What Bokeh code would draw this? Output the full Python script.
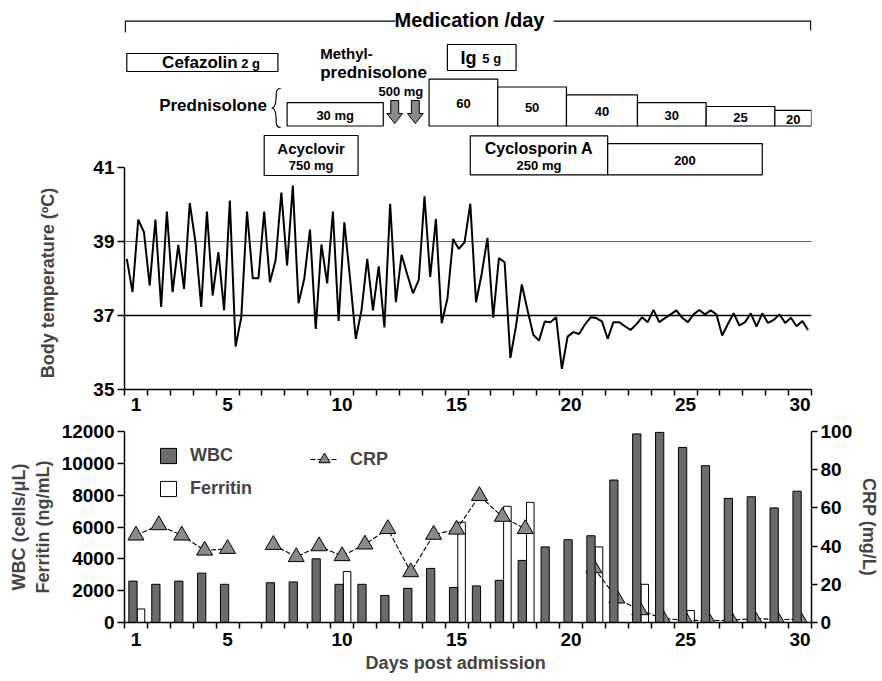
import numpy as np
from bokeh.plotting import figure
from bokeh.models import (Range1d, LinearAxis, FixedTicker, Span, Label, Legend,
                          LegendItem, ColumnDataSource)
from bokeh.transform import dodge
from bokeh.layouts import column
from bokeh.embed import file_html
from bokeh.resources import INLINE
from bokeh.core.properties import value

# ---------------- data ----------------
# body temperature, one reading every 6 h
temp_c = [38.53, 37.63, 39.59, 39.25, 37.81, 39.59, 37.23, 39.81, 37.63, 38.91,
          37.72, 40.04, 38.98, 37.23, 39.81, 37.54, 38.71, 37.14, 40.11, 36.16,
          36.95, 39.81, 38.01, 38.01, 39.81, 37.90, 38.50, 40.32, 38.35, 40.51,
          37.33, 37.99, 39.32, 36.64, 38.92, 37.87, 39.81, 36.85, 39.52, 38.00,
          36.37, 37.14, 38.53, 37.14, 38.33, 36.68, 40.02, 37.36, 38.64, 38.10,
          37.60, 37.96, 40.22, 38.04, 39.61, 36.79, 37.45, 39.07, 38.80, 38.98,
          40.02, 37.36, 38.13, 39.10, 36.94, 38.55, 38.44, 35.85, 36.73, 37.84,
          37.14, 36.48, 36.32, 36.84, 36.82, 36.95, 35.56, 36.43, 36.55, 36.50,
          36.75, 36.95, 36.93, 36.84, 36.37, 36.82, 36.82, 36.71, 36.61, 36.76,
          36.95, 36.82, 37.15, 36.82, 36.93, 37.03, 37.14, 36.94, 36.82, 37.03,
          37.15, 37.03, 37.14, 37.03, 36.46, 36.77, 37.06, 36.73, 36.82, 37.06,
          36.70, 37.06, 36.80, 36.88, 37.03, 36.80, 36.94, 36.71, 36.85, 36.61]
temp_first_day = 0.6
temp_step_day = 0.25

wbc_days = [1, 2, 3, 4, 5, 7, 8, 9, 10, 11, 12, 13, 14, 15, 16, 17, 18, 19, 20,
            21, 22, 23, 24, 25, 26, 27, 28, 29, 30]
wbc = [2600, 2400, 2600, 3100, 2400, 2500, 2550, 4000, 2400, 2400, 1700, 2150,
       3400, 2200, 2300, 2650, 3900, 4750, 5200, 5450, 8950, 11850, 11950, 11000,
       9850, 7800, 7900, 7200, 8250]
ferritin_days = [1, 10, 15, 17, 18, 21, 23, 25]
ferritin = [850, 3200, 6300, 7300, 7550, 4750, 2400, 750]
crp_days = list(range(1, 31))
crp = [45.6, 51, 45.6, 37.7, 38.6, None, 40.7, 34.3, 40, 34.8, 40.9, 49, 26.4, 46,
       48.7, 66.3, 55.4, 49, None, None, 28.5, 12.6, 6.5, 2.1, 1.2, 0.9, 1.2, 2.1,
       1.6, 1.6]

day_ticks = [1, 5, 10, 15, 20, 25, 30]
temp_ticks = [35, 37, 39, 41]
count_ticks = [0, 2000, 4000, 6000, 8000, 10000, 12000]
crp_ticks = [0, 20, 40, 60, 80, 100]

# medication schedule (days)
cefazolin_start, cefazolin_end, cefazolin_dose = 0.6, 7.2, "2 g"
ig_start, ig_end, ig_dose = 14.6, 17.6, "5 g"
acyclovir_start, acyclovir_end, acyclovir_dose = 6.6, 10.7, "750 mg"
pred_start = [7.6, 13.8, 16.8, 19.8, 22.9, 25.9, 28.9]
pred_end = [11.8, 16.8, 19.8, 22.9, 25.9, 28.9, 30.5]
pred_dose = [30, 60, 50, 40, 30, 25, 20]
mpsl_days = [12.3, 13.2]
mpsl_dose = "500 mg"
csa_start = [15.6, 21.6]
csa_end = [21.6, 28.35]
csa_dose = [250, 200]

# ---------------- layout ----------------
W = 882
LB, FW = 124, 695
RB = W - LB - FW
PXD = FW / 30.0
FONT = "Liberation Sans"
FV = value(FONT)
TICK_SIZE = "19px"


def d(px):
    return 0.5 + (px - 124) / PXD


xr = Range1d(0.5, 30.5)

top = figure(width=W, height=419, x_range=xr, y_range=Range1d(35, 35 + 381 / 37.0),
             output_backend="svg", toolbar_location=None,
             x_axis_location=None, y_axis_location=None,
             min_border_left=LB, min_border_right=RB, min_border_top=8,
             min_border_bottom=30)
top.outline_line_color = None
top.grid.visible = False
top.extra_y_ranges = {"px": Range1d(389, 8)}


def style_axis(ax):
    ax.axis_line_width = 1.5
    ax.major_label_text_font = FONT
    ax.major_label_text_font_style = "bold"
    ax.major_label_text_font_size = TICK_SIZE
    ax.major_label_text_color = "black"
    ax.axis_label_text_font = FONT
    ax.axis_label_text_font_style = "bold"
    ax.axis_label_text_font_size = "18px"


def day_axis(standoff):
    ax = LinearAxis(ticker=FixedTicker(ticks=day_ticks,
                                       minor_ticks=[0.5 + i for i in range(31)]))
    style_axis(ax)
    ax.major_tick_line_color = None
    ax.major_tick_out = 6
    ax.minor_tick_out = 6
    ax.minor_tick_in = 0
    ax.minor_tick_line_width = 1.5
    ax.major_label_standoff = standoff
    return ax


top.add_layout(day_axis(2), "below")
tax = LinearAxis(bounds=(35, 41), ticker=FixedTicker(ticks=temp_ticks))
style_axis(tax)
tax.major_tick_out = 7
tax.major_tick_in = 0
tax.major_tick_line_width = 1.5
tax.minor_tick_line_color = None
tax.major_label_standoff = 3
top.add_layout(tax, "left")

top.add_layout(Label(x=d(46.7), y=37.88, text="Body temperature (ºC)", angle=np.pi / 2,
                     text_align="center", text_baseline="middle", text_font=FONT,
                     text_font_style="bold", text_font_size="18px"), "left")

top.add_layout(Span(location=39, dimension="width", line_color="#666666",
                    line_width=1, level="underlay"))
top.add_layout(Span(location=37, dimension="width", line_color="black",
                    line_width=1.5, level="underlay"))

temp_days = [temp_first_day + temp_step_day * i for i in range(len(temp_c))]
top.line(temp_days, temp_c, line_color="black", line_width=2)

# ---- medication panel ----
BOX = dict(fill_color="white", line_color="black", line_width=1.2, y_range_name="px")


def txt(x, y, s, size, align="center"):
    top.text(x=[x], y=[y], text=[s], text_font=FV, text_font_style="bold",
             text_font_size=size, text_align=align, text_baseline="middle",
             text_color="black", y_range_name="px")


# bracket
top.multi_line(xs=[[d(124.8), d(124.8), d(398)], [d(558), d(818.2), d(818.2)]],
               ys=[[32, 20.7, 20.7], [20.7, 20.7, 30]], line_color="black",
               line_width=1.3, y_range_name="px")
txt(d(473), 19.5, "Medication /day", "20px")

# cefazolin
top.quad(left=[cefazolin_start], right=[cefazolin_end], top=[53], bottom=[71], **BOX)
txt(d(238.5), 62, "Cefazolin", "17px", "right")
txt(d(242), 63, cefazolin_dose, "13px", "left")

# Ig
top.quad(left=[ig_start], right=[ig_end], top=[44], bottom=[70], **BOX)
txt(d(480), 57, "Ig", "18px", "right")
txt(d(486), 58, ig_dose, "13px", "left")

# prednisolone (bar height proportional to dose)
P_BASE, P_K = 125.5, 0.78
p_tops = [P_BASE - P_K * v for v in pred_dose]
top.quad(left=pred_start, right=pred_end, top=p_tops,
         bottom=[P_BASE] * len(pred_dose), **BOX)
p_lab = [f"{pred_dose[0]} mg"] + [str(v) for v in pred_dose[1:]]
top.text(x=[(a + b) / 2 for a, b in zip(pred_start, pred_end)],
         y=[(t + P_BASE) / 2 + 1 for t in p_tops], text=p_lab, text_font=FV,
         text_font_style="bold", text_font_size="13px", text_align="center",
         text_baseline="middle", y_range_name="px")
txt(d(268), 105, "Prednisolone", "17px", "right")
# brace
x0s = [282, 277.5, 273, 277.5]
y0s = [88, 93, 107.5, 122]
x1s = [277.5, 273, 277.5, 282]
y1s = [93, 107.5, 122, 127]
c0x = [279, 277.5, 276, 277.5]
c0y = [88, 104, 107.5, 125]
c1x = [277.5, 276, 277.5, 279]
c1y = [90, 107.5, 111, 127]
top.bezier(x0=[d(v) for v in x0s], y0=y0s, x1=[d(v) for v in x1s], y1=y1s,
           cx0=[d(v) for v in c0x], cy0=c0y, cx1=[d(v) for v in c1x], cy1=c1y,
           line_color="black", line_width=1.2, y_range_name="px")

# methylprednisolone pulses
ax_off = [-4, 4, 4, 8, 0, -8, -4]
ay = [100, 100, 113, 113, 123, 113, 113]
top.patches(xs=[[m + o / PXD for o in ax_off] for m in mpsl_days],
            ys=[ay for _ in mpsl_days], fill_color="#8a8a8a", line_color="black",
            line_width=1, y_range_name="px")
txt(d(322), 53, "Methyl-", "15px", "left")
txt(d(322), 72, "prednisolone", "17px", "left")
txt(mpsl_days[-1] + 8 / PXD, 91, mpsl_dose, "13px", "right")

# acyclovir
top.quad(left=[acyclovir_start], right=[acyclovir_end], top=[135], bottom=[175], **BOX)
ac = (acyclovir_start + acyclovir_end) / 2
txt(ac, 148, "Acyclovir", "15px")
txt(ac, 165, acyclovir_dose, "13px")

# cyclosporin A (height proportional to dose)
C_BASE, C_K = 174.3, 0.156
c_tops = [C_BASE - C_K * v for v in csa_dose]
top.quad(left=csa_start, right=csa_end, top=c_tops, bottom=[C_BASE] * 2, **BOX)
cc = (csa_start[0] + csa_end[0]) / 2
txt(cc, 148, "Cyclosporin A", "16px")
txt(cc, 165, f"{csa_dose[0]} mg", "13px")
txt((csa_start[1] + csa_end[1]) / 2, (c_tops[1] + C_BASE) / 2 + 1, str(csa_dose[1]), "13px")

# ---------------- bottom chart ----------------
bot = figure(width=W, height=258, x_range=xr, y_range=Range1d(0, 12000),
             output_backend="svg", toolbar_location=None,
             x_axis_location=None, y_axis_location=None,
             min_border_left=LB, min_border_right=RB, min_border_top=12,
             min_border_bottom=55)
bot.outline_line_color = None
bot.grid.visible = False
bot.extra_y_ranges = {"crp": Range1d(0, 100)}

bot.add_layout(day_axis(4), "below")
lax = LinearAxis(ticker=FixedTicker(ticks=count_ticks),
                 axis_label="WBC (cells/μL)\nFerritin (ng/mL)")
style_axis(lax)
lax.major_tick_out = 7
lax.major_tick_in = 0
lax.major_tick_line_width = 1.5
lax.minor_tick_line_color = None
lax.major_label_standoff = 3
lax.axis_label_standoff = 6
bot.add_layout(lax, "left")
rax = LinearAxis(y_range_name="crp", ticker=FixedTicker(ticks=crp_ticks),
                 axis_label="CRP (mg/L)")
style_axis(rax)
rax.major_tick_out = 6
rax.major_tick_in = 0
rax.major_tick_line_width = 1.5
rax.minor_tick_line_color = None
rax.major_label_standoff = 3
rax.axis_label_standoff = 4
bot.add_layout(rax, "right")

bot.add_layout(Label(x=d(459), y=-2520, text="Days post admission",
                     text_align="center", text_baseline="middle", text_font=FONT,
                     text_font_style="bold", text_font_size="18px"), "below")

fsrc = ColumnDataSource(dict(day=ferritin_days, v=ferritin))
fer_r = bot.vbar(x=dodge("day", 0.22, range=xr), top="v", width=0.33, bottom=0,
                 source=fsrc, fill_color="white", line_color="black", line_width=1)

crp_y = [np.nan if v is None else v for v in crp]
crp_line = bot.line(crp_days, crp_y, line_color="black", line_width=1.1,
                    line_dash="5 2", y_range_name="crp")
crp_pts = bot.scatter(crp_days, crp_y, marker="triangle", size=16,
                      fill_color="#8a8a8a", line_color="black", line_width=1,
                      y_range_name="crp")

wsrc = ColumnDataSource(dict(day=wbc_days, v=wbc))
wbc_r = bot.vbar(x=dodge("day", -0.13, range=xr), top="v", width=0.36, bottom=0,
                 source=wsrc, fill_color="#6b6b6b", line_color="black", line_width=1)


def style_legend(lg):
    lg.border_line_color = None
    lg.background_fill_alpha = 0
    lg.padding = 0
    lg.margin = 0
    lg.label_text_font = FONT
    lg.label_text_font_style = "bold"
    lg.label_text_font_size = "18px"
    lg.label_standoff = 12


lg1 = Legend(items=[LegendItem(label="WBC", renderers=[wbc_r]),
                    LegendItem(label="Ferritin", renderers=[fer_r])],
             location=(34, 123), glyph_width=20, glyph_height=19, spacing=12)
style_legend(lg1)
bot.add_layout(lg1)
lg2 = Legend(items=[LegendItem(label="CRP", renderers=[crp_line, crp_pts])],
             location=(186, 146), glyph_width=28, glyph_height=34)
style_legend(lg2)
bot.add_layout(lg2)

layout = column(top, bot)
open("out.html", "w").write(file_html(layout, INLINE))
